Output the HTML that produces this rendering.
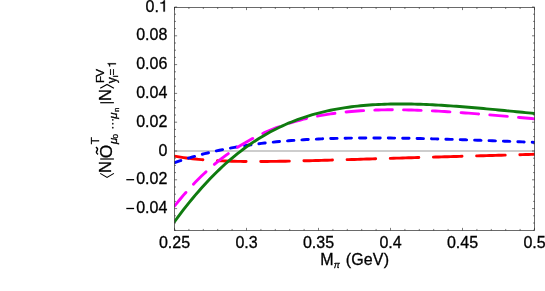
<!DOCTYPE html>
<html><head><meta charset="utf-8"><title>plot</title>
<style>
html,body{margin:0;padding:0;background:#fff;}
body{width:545px;height:291px;overflow:hidden;}
svg{display:block;will-change:transform;}
text{font-family:"Liberation Sans",sans-serif;fill:#000;stroke:#000;stroke-width:0.3px;}
</style></head><body>
<svg width="545" height="291" viewBox="0 0 545 291">
<rect width="545" height="291" fill="#fff"/>
<defs><clipPath id="c"><rect x="174.5" y="7.5" width="360.1" height="222.95"/></clipPath></defs>
<g clip-path="url(#c)" fill="none" stroke-width="2.9" stroke-linecap="round">
<path d="M174.5,151.0H534.6" stroke="#bdbdbd" stroke-width="1.4"/>
<path d="M174.5,156.08 L177.5,156.62 L180.5,157.11 L183.5,157.57 L186.5,157.99 L189.5,158.37 L192.5,158.73 L195.5,159.05 L198.5,159.35 L201.5,159.62 L204.5,159.87 L207.5,160.09 L210.5,160.29 L213.5,160.48 L216.5,160.64 L219.5,160.79 L222.5,160.92 L225.5,161.03 L228.5,161.13 L231.5,161.22 L234.5,161.29 L237.5,161.35 L240.5,161.40 L243.5,161.44 L246.5,161.47 L249.5,161.49 L252.5,161.50 L255.5,161.50 L258.5,161.50 L261.5,161.49 L264.5,161.47 L267.5,161.45 L270.5,161.42 L273.5,161.39 L276.5,161.35 L279.5,161.31 L282.5,161.26 L285.5,161.21 L288.5,161.15 L291.5,161.09 L294.5,161.03 L297.5,160.97 L300.5,160.90 L303.5,160.83 L306.5,160.76 L309.5,160.69 L312.5,160.61 L315.5,160.53 L318.5,160.45 L321.5,160.37 L324.5,160.29 L327.5,160.21 L330.5,160.12 L333.5,160.04 L336.5,159.95 L339.5,159.87 L342.5,159.78 L345.5,159.69 L348.5,159.60 L351.5,159.51 L354.5,159.43 L357.5,159.34 L360.5,159.25 L363.5,159.16 L366.5,159.07 L369.5,158.98 L372.5,158.89 L375.5,158.80 L378.5,158.71 L381.5,158.62 L384.5,158.52 L387.5,158.43 L390.5,158.34 L393.5,158.26 L396.5,158.17 L399.5,158.08 L402.5,157.99 L405.5,157.90 L408.5,157.81 L411.5,157.72 L414.5,157.63 L417.5,157.54 L420.5,157.46 L423.5,157.37 L426.5,157.28 L429.5,157.19 L432.5,157.11 L435.5,157.02 L438.5,156.94 L441.5,156.85 L444.5,156.76 L447.5,156.68 L450.5,156.59 L453.5,156.51 L456.5,156.43 L459.5,156.34 L462.5,156.26 L465.5,156.17 L468.5,156.09 L471.5,156.01 L474.5,155.93 L477.5,155.84 L480.5,155.76 L483.5,155.68 L486.5,155.60 L489.5,155.52 L492.5,155.44 L495.5,155.35 L498.5,155.27 L501.5,155.19 L504.5,155.11 L507.5,155.03 L510.5,154.95 L513.5,154.87 L516.5,154.79 L519.5,154.71 L522.5,154.63 L525.5,154.55 L528.5,154.47 L531.5,154.40 L534.5,154.32" stroke="#ff0000" stroke-dasharray="28.6 14.6" stroke-dashoffset="43.1"/>
<path d="M174.5,162.68 L177.5,161.64 L180.5,160.64 L183.5,159.68 L186.5,158.74 L189.5,157.83 L192.5,156.95 L195.5,156.10 L198.5,155.28 L201.5,154.48 L204.5,153.71 L207.5,152.97 L210.5,152.25 L213.5,151.56 L216.5,150.89 L219.5,150.25 L222.5,149.63 L225.5,149.03 L228.5,148.45 L231.5,147.90 L234.5,147.36 L237.5,146.85 L240.5,146.35 L243.5,145.88 L246.5,145.42 L249.5,144.99 L252.5,144.57 L255.5,144.16 L258.5,143.78 L261.5,143.41 L264.5,143.06 L267.5,142.72 L270.5,142.40 L273.5,142.09 L276.5,141.80 L279.5,141.52 L282.5,141.25 L285.5,141.00 L288.5,140.76 L291.5,140.53 L294.5,140.31 L297.5,140.11 L300.5,139.92 L303.5,139.74 L306.5,139.56 L309.5,139.40 L312.5,139.25 L315.5,139.11 L318.5,138.98 L321.5,138.86 L324.5,138.75 L327.5,138.64 L330.5,138.55 L333.5,138.46 L336.5,138.38 L339.5,138.31 L342.5,138.24 L345.5,138.19 L348.5,138.14 L351.5,138.09 L354.5,138.06 L357.5,138.03 L360.5,138.00 L363.5,137.98 L366.5,137.97 L369.5,137.96 L372.5,137.96 L375.5,137.97 L378.5,137.98 L381.5,137.99 L384.5,138.01 L387.5,138.03 L390.5,138.06 L393.5,138.09 L396.5,138.12 L399.5,138.16 L402.5,138.21 L405.5,138.26 L408.5,138.31 L411.5,138.36 L414.5,138.42 L417.5,138.48 L420.5,138.54 L423.5,138.61 L426.5,138.68 L429.5,138.75 L432.5,138.83 L435.5,138.90 L438.5,138.98 L441.5,139.07 L444.5,139.15 L447.5,139.24 L450.5,139.33 L453.5,139.42 L456.5,139.51 L459.5,139.60 L462.5,139.70 L465.5,139.80 L468.5,139.90 L471.5,140.00 L474.5,140.10 L477.5,140.20 L480.5,140.31 L483.5,140.41 L486.5,140.52 L489.5,140.63 L492.5,140.74 L495.5,140.85 L498.5,140.96 L501.5,141.07 L504.5,141.18 L507.5,141.30 L510.5,141.41 L513.5,141.52 L516.5,141.64 L519.5,141.75 L522.5,141.87 L525.5,141.99 L528.5,142.10 L531.5,142.22 L534.5,142.34" stroke="#0000ff" stroke-dasharray="6.4 8" stroke-dashoffset="14.15"/>
<path d="M174.5,206.10 L177.5,202.35 L180.5,198.71 L183.5,195.17 L186.5,191.74 L189.5,188.40 L192.5,185.17 L195.5,182.03 L198.5,178.99 L201.5,176.04 L204.5,173.19 L207.5,170.43 L210.5,167.75 L213.5,165.16 L216.5,162.66 L219.5,160.24 L222.5,157.90 L225.5,155.64 L228.5,153.46 L231.5,151.35 L234.5,149.32 L237.5,147.36 L240.5,145.47 L243.5,143.65 L246.5,141.90 L249.5,140.21 L252.5,138.58 L255.5,137.02 L258.5,135.51 L261.5,134.07 L264.5,132.68 L267.5,131.35 L270.5,130.08 L273.5,128.85 L276.5,127.68 L279.5,126.56 L282.5,125.48 L285.5,124.46 L288.5,123.47 L291.5,122.54 L294.5,121.65 L297.5,120.80 L300.5,119.99 L303.5,119.22 L306.5,118.48 L309.5,117.79 L312.5,117.13 L315.5,116.51 L318.5,115.93 L321.5,115.37 L324.5,114.85 L327.5,114.36 L330.5,113.90 L333.5,113.47 L336.5,113.07 L339.5,112.69 L342.5,112.34 L345.5,112.02 L348.5,111.73 L351.5,111.45 L354.5,111.20 L357.5,110.98 L360.5,110.77 L363.5,110.59 L366.5,110.43 L369.5,110.29 L372.5,110.17 L375.5,110.06 L378.5,109.98 L381.5,109.91 L384.5,109.85 L387.5,109.82 L390.5,109.80 L393.5,109.79 L396.5,109.80 L399.5,109.82 L402.5,109.86 L405.5,109.91 L408.5,109.97 L411.5,110.05 L414.5,110.13 L417.5,110.23 L420.5,110.33 L423.5,110.45 L426.5,110.58 L429.5,110.71 L432.5,110.86 L435.5,111.01 L438.5,111.17 L441.5,111.34 L444.5,111.52 L447.5,111.70 L450.5,111.89 L453.5,112.09 L456.5,112.29 L459.5,112.50 L462.5,112.71 L465.5,112.93 L468.5,113.16 L471.5,113.39 L474.5,113.62 L477.5,113.86 L480.5,114.10 L483.5,114.34 L486.5,114.59 L489.5,114.84 L492.5,115.09 L495.5,115.35 L498.5,115.61 L501.5,115.87 L504.5,116.13 L507.5,116.39 L510.5,116.66 L513.5,116.93 L516.5,117.19 L519.5,117.46 L522.5,117.73 L525.5,118.00 L528.5,118.28 L531.5,118.55 L534.5,118.82" stroke="#ff00ff" stroke-dasharray="17.6 11.2" stroke-dashoffset="28.6"/>
<path d="M174.5,221.68 L177.5,217.62 L180.5,213.64 L183.5,209.74 L186.5,205.92 L189.5,202.18 L192.5,198.52 L195.5,194.94 L198.5,191.45 L201.5,188.04 L204.5,184.72 L207.5,181.48 L210.5,178.32 L213.5,175.25 L216.5,172.27 L219.5,169.36 L222.5,166.54 L225.5,163.80 L228.5,161.14 L231.5,158.57 L234.5,156.07 L237.5,153.65 L240.5,151.30 L243.5,149.03 L246.5,146.84 L249.5,144.72 L252.5,142.67 L255.5,140.69 L258.5,138.78 L261.5,136.94 L264.5,135.16 L267.5,133.45 L270.5,131.81 L273.5,130.22 L276.5,128.70 L279.5,127.24 L282.5,125.84 L285.5,124.49 L288.5,123.20 L291.5,121.97 L294.5,120.78 L297.5,119.65 L300.5,118.57 L303.5,117.54 L306.5,116.56 L309.5,115.62 L312.5,114.73 L315.5,113.89 L318.5,113.09 L321.5,112.33 L324.5,111.61 L327.5,110.93 L330.5,110.29 L333.5,109.69 L336.5,109.12 L339.5,108.59 L342.5,108.09 L345.5,107.63 L348.5,107.20 L351.5,106.80 L354.5,106.43 L357.5,106.09 L360.5,105.78 L363.5,105.50 L366.5,105.24 L369.5,105.01 L372.5,104.81 L375.5,104.63 L378.5,104.47 L381.5,104.33 L384.5,104.22 L387.5,104.13 L390.5,104.06 L393.5,104.01 L396.5,103.97 L399.5,103.96 L402.5,103.96 L405.5,103.98 L408.5,104.02 L411.5,104.07 L414.5,104.14 L417.5,104.22 L420.5,104.31 L423.5,104.42 L426.5,104.54 L429.5,104.67 L432.5,104.82 L435.5,104.97 L438.5,105.14 L441.5,105.31 L444.5,105.50 L447.5,105.69 L450.5,105.89 L453.5,106.10 L456.5,106.32 L459.5,106.55 L462.5,106.78 L465.5,107.02 L468.5,107.26 L471.5,107.51 L474.5,107.77 L477.5,108.03 L480.5,108.29 L483.5,108.56 L486.5,108.83 L489.5,109.11 L492.5,109.39 L495.5,109.67 L498.5,109.95 L501.5,110.24 L504.5,110.53 L507.5,110.82 L510.5,111.11 L513.5,111.40 L516.5,111.69 L519.5,111.99 L522.5,112.28 L525.5,112.57 L528.5,112.86 L531.5,113.16 L534.5,113.45" stroke="#0f7b0f"/>
</g>
<rect x="174.5" y="7.5" width="360.1" height="222.95" fill="none" stroke="#111" stroke-width="0.62"/>
<path d="M174.50,230.45v-2.6M174.50,7.5v2.6M188.90,230.45v-1.5M188.90,7.5v1.5M203.30,230.45v-1.5M203.30,7.5v1.5M217.70,230.45v-1.5M217.70,7.5v1.5M232.10,230.45v-1.5M232.10,7.5v1.5M246.50,230.45v-2.6M246.50,7.5v2.6M260.90,230.45v-1.5M260.90,7.5v1.5M275.30,230.45v-1.5M275.30,7.5v1.5M289.70,230.45v-1.5M289.70,7.5v1.5M304.10,230.45v-1.5M304.10,7.5v1.5M318.50,230.45v-2.6M318.50,7.5v2.6M332.90,230.45v-1.5M332.90,7.5v1.5M347.30,230.45v-1.5M347.30,7.5v1.5M361.70,230.45v-1.5M361.70,7.5v1.5M376.10,230.45v-1.5M376.10,7.5v1.5M390.50,230.45v-2.6M390.50,7.5v2.6M404.90,230.45v-1.5M404.90,7.5v1.5M419.30,230.45v-1.5M419.30,7.5v1.5M433.70,230.45v-1.5M433.70,7.5v1.5M448.10,230.45v-1.5M448.10,7.5v1.5M462.50,230.45v-2.6M462.50,7.5v2.6M476.90,230.45v-1.5M476.90,7.5v1.5M491.30,230.45v-1.5M491.30,7.5v1.5M505.70,230.45v-1.5M505.70,7.5v1.5M520.10,230.45v-1.5M520.10,7.5v1.5M534.50,230.45v-2.6M534.50,7.5v2.6M174.5,7.00h2.6M534.6,7.00h-2.6M174.5,14.20h1.5M534.6,14.20h-1.5M174.5,21.40h1.5M534.6,21.40h-1.5M174.5,28.60h1.5M534.6,28.60h-1.5M174.5,35.80h2.6M534.6,35.80h-2.6M174.5,43.00h1.5M534.6,43.00h-1.5M174.5,50.20h1.5M534.6,50.20h-1.5M174.5,57.40h1.5M534.6,57.40h-1.5M174.5,64.60h2.6M534.6,64.60h-2.6M174.5,71.80h1.5M534.6,71.80h-1.5M174.5,79.00h1.5M534.6,79.00h-1.5M174.5,86.20h1.5M534.6,86.20h-1.5M174.5,93.40h2.6M534.6,93.40h-2.6M174.5,100.60h1.5M534.6,100.60h-1.5M174.5,107.80h1.5M534.6,107.80h-1.5M174.5,115.00h1.5M534.6,115.00h-1.5M174.5,122.20h2.6M534.6,122.20h-2.6M174.5,129.40h1.5M534.6,129.40h-1.5M174.5,136.60h1.5M534.6,136.60h-1.5M174.5,143.80h1.5M534.6,143.80h-1.5M174.5,151.00h2.6M534.6,151.00h-2.6M174.5,158.20h1.5M534.6,158.20h-1.5M174.5,165.40h1.5M534.6,165.40h-1.5M174.5,172.60h1.5M534.6,172.60h-1.5M174.5,179.80h2.6M534.6,179.80h-2.6M174.5,187.00h1.5M534.6,187.00h-1.5M174.5,194.20h1.5M534.6,194.20h-1.5M174.5,201.40h1.5M534.6,201.40h-1.5M174.5,208.60h2.6M534.6,208.60h-2.6M174.5,215.80h1.5M534.6,215.80h-1.5M174.5,223.00h1.5M534.6,223.00h-1.5M174.5,230.20h1.5M534.6,230.20h-1.5" stroke="#222" stroke-width="0.6" fill="none"/>
<g font-size="16px"><text x="158.9" y="11.6" text-anchor="end">0.</text><path d="M163.46,11.60L163.46,3.52L160.53,3.52L160.53,2.51C162.10,2.51 163.54,2.00 163.94,0.21L164.85,0.21L164.85,11.60Z" fill="#000" stroke="#000" stroke-width="0.3"/><text x="167.3" y="40.4" text-anchor="end">0.08</text><text x="167.3" y="69.2" text-anchor="end">0.06</text><text x="167.3" y="98.0" text-anchor="end">0.04</text><text x="167.3" y="126.8" text-anchor="end">0.02</text><text x="167.3" y="155.6" text-anchor="end">0</text><text x="167.3" y="184.4" text-anchor="end">0.02</text><path d="M126.3,179.70H134.1" stroke="#000" stroke-width="1.3" fill="none"/><text x="167.3" y="213.2" text-anchor="end">0.04</text><path d="M126.3,208.50H134.1" stroke="#000" stroke-width="1.3" fill="none"/><text x="174.5" y="247.8" text-anchor="middle">0.25</text><text x="246.5" y="247.8" text-anchor="middle">0.3</text><text x="318.5" y="247.8" text-anchor="middle">0.35</text><text x="390.5" y="247.8" text-anchor="middle">0.4</text><text x="462.5" y="247.8" text-anchor="middle">0.45</text><text x="534.5" y="247.8" text-anchor="middle">0.5</text>
<text x="320.3" y="264.7">M</text><text x="333.8" y="268" font-size="9px" font-style="italic">π</text><text x="345.7" y="264.7" letter-spacing="0.15px">(GeV)</text>
</g>
<g transform="translate(111.4,200) rotate(-90)" font-size="16.5px">
<path d="M26.6,-11.2L22.6,-4.35L26.6,2.5" fill="none" stroke="#000" stroke-width="1.1"/>
<text x="27" y="0">N</text>
<path d="M41,-11.2V2.5" stroke="#000" stroke-width="1.2"/>
<text x="41.7" y="0.5" font-size="17.4px">O</text>
<path d="M45.7,-13.3Q47.3,-16.0 49.3,-14.4T52.9,-15.5" fill="none" stroke="#000" stroke-width="1.45"/>
<text x="55.8" y="-12.9" font-size="11.5px">T</text>
<text x="56" y="5.3" font-size="11.5px" font-style="italic">μ</text>
<text x="61.6" y="7.1" font-size="8px" stroke-width="0.45px">0</text>
<g fill="#111"><circle cx="72.3" cy="1.4" r="0.85"/><circle cx="76.3" cy="1.4" r="0.85"/><circle cx="80.2" cy="1.4" r="0.85"/></g>
<text x="81.3" y="5.3" font-size="11.5px" font-style="italic">μ</text>
<text x="87.9" y="7.6" font-size="8px" stroke-width="0.45px">n</text>
<path d="M97.3,-11.2V2.5" stroke="#000" stroke-width="1.2"/>
<text x="98.9" y="0">N</text>
<path d="M111.8,-11.2L115.6,-4.35L111.8,2.5" fill="none" stroke="#000" stroke-width="1.1"/>
<text x="117.0" y="-7.4" font-size="11.5px">F</text>
<text x="123.2" y="-7.4" font-size="11.6px">V</text>
<text x="116.8" y="4.7" font-size="12px">y</text>
<text x="122.7" y="6.1" font-size="8px" stroke-width="0.6px">i</text>
<text x="124.6" y="4.5" font-size="11.5px">=</text>
<path d="M135.68,4.50L135.68,-1.31L133.57,-1.31L133.57,-2.03C134.70,-2.03 135.74,-2.40 136.02,-3.69L136.68,-3.69L136.68,4.50Z" fill="#000" stroke="#000" stroke-width="0.3"/>
</g>
</svg>
</body></html>
